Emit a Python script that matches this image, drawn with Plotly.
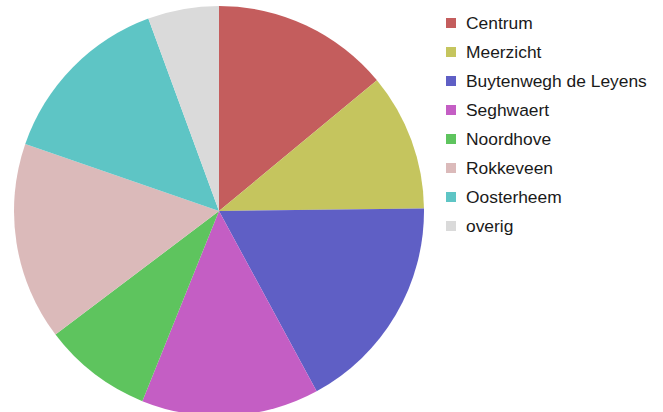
import plotly.graph_objects as go

# wijken en hun aandeel (geschat uit de figuur, in procenten)
labels = ["Centrum", "Meerzicht", "Buytenwegh de Leyens", "Seghwaert",
          "Noordhove", "Rokkeveen", "Oosterheem", "overig"]
values = [14.0, 10.8, 17.3, 14.0, 8.6, 15.6, 14.1, 5.6]
colors = ["#c45d5d", "#c5c55e", "#5f5fc5", "#c45ec4",
          "#5ec45e", "#dbbaba", "#5ec5c5", "#dadada"]

W, H = 663, 422  # iets hoger dan het venster: taart loopt onderaan net van de rand af

fig = go.Figure(
    go.Pie(
        labels=labels,
        values=values,
        sort=False,
        direction="clockwise",
        rotation=0,
        marker=dict(colors=colors, line=dict(width=0)),
        textinfo="none",
        hoverinfo="label+percent",
        domain=dict(x=[14 / W, 424 / W], y=[0, 1]),
        showlegend=False,
    )
)

# legenda handmatig, zodat de regelafstand klopt
annotations = []
shapes = []
for i, (lab, col) in enumerate(zip(labels, colors)):
    yc = 23 + 29 * i
    annotations.append(dict(
        x=464 / W, y=1 - yc / H, xref="paper", yref="paper",
        text=lab, showarrow=False, xanchor="left", yanchor="middle",
        font=dict(family="Liberation Sans, Arial, sans-serif", size=17.4, color="#1a1a1a"),
    ))
    shapes.append(dict(
        type="rect", xref="paper", yref="paper",
        x0=446 / W, x1=456 / W, y0=1 - (yc + 5) / H, y1=1 - (yc - 5) / H,
        fillcolor=col, line=dict(width=0),
    ))

fig.update_layout(
    width=W,
    height=H,
    margin=dict(l=0, r=0, t=0, b=0),
    paper_bgcolor="white",
    plot_bgcolor="white",
    annotations=annotations,
    shapes=shapes,
)

# standaard body-marge weg en geen schuifbalk
fig.write_html(
    "out.html",
    config={"displayModeBar": False},
    post_script="document.body.style.margin='0';document.body.style.overflow='hidden';",
)
